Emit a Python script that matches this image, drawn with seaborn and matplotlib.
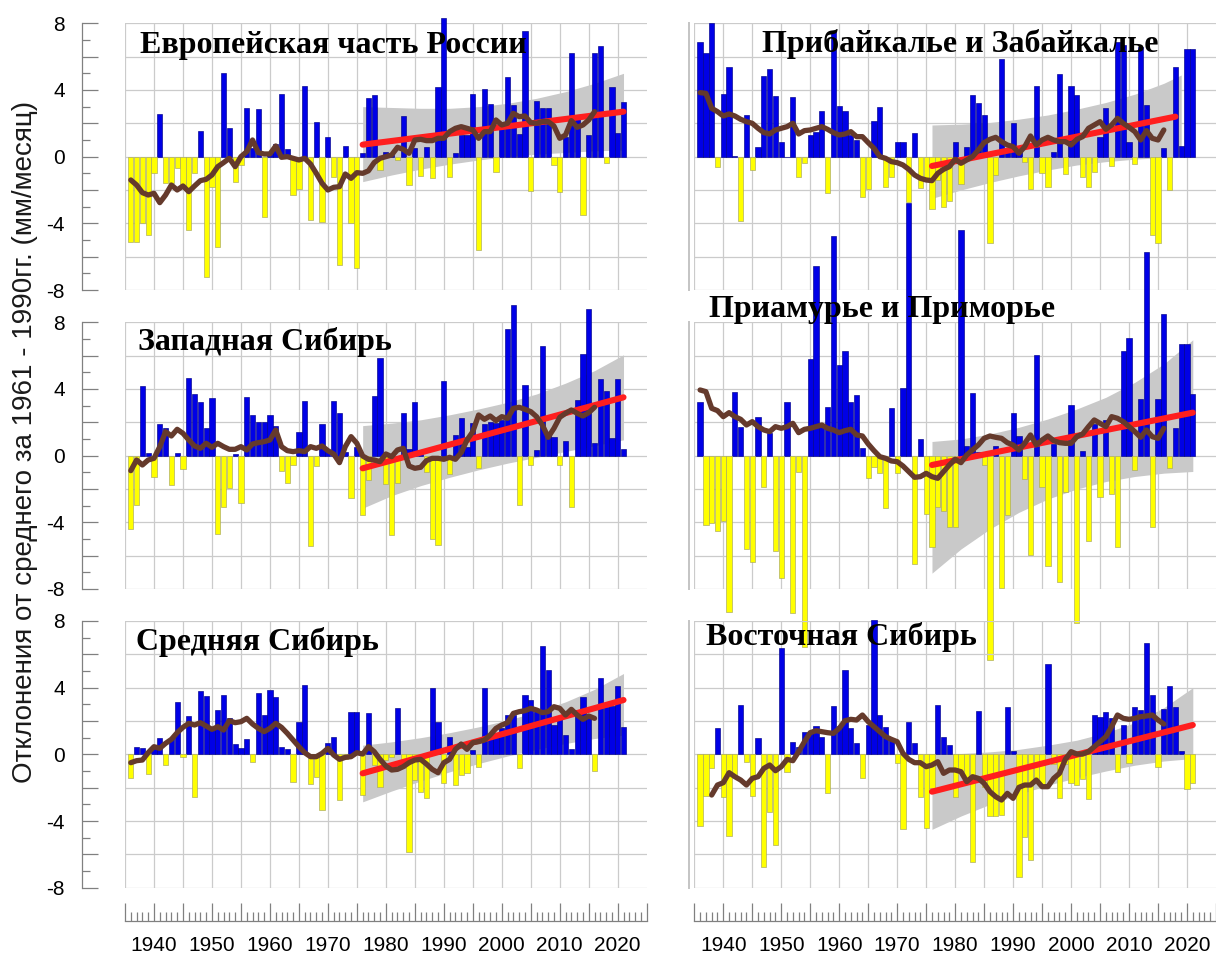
import numpy as np
import pandas as pd
import matplotlib
matplotlib.use("Agg")
import matplotlib.pyplot as plt
from matplotlib.ticker import MultipleLocator, FuncFormatter
import seaborn as sns

# ---------------- data ----------------
YEARS = list(range(1936, 2022))

TITLES = ["Европейская часть России", "Прибайкалье и Забайкалье",
          "Западная Сибирь", "Приамурье и Приморье",
          "Средняя Сибирь", "Восточная Сибирь"]

Y_LABEL = "Отклонения от среднего за 1961 - 1990гг. (мм/месяц)"
X_TICK_LABELS = ["1940", "1950", "1960", "1970", "1980", "1990", "2000", "2010", "2020"]
Y_TICK_LABELS = ["-8", "-4", "0", "4", "8"]

TL_VALS = [-5.1, -5.1, -4.0, -4.7, -1.0, 2.56, -1.6, -1.6, -0.7, -1.8,
           -4.4, -1.0, 1.56, -7.2, -1.8, -5.4, 5.0, 1.7, -1.5, -0.5,
           2.94, 0.5, 2.88, -3.6, 0.3, 0.76, 3.76, 0.44, -2.3, -1.96,
           4.24, -3.8, 2.1, -3.9, 1.2, -1.2, -6.5, 0.64, -4.0, -6.7,
           0.2, 3.54, 3.7, -0.8, 0.3, 0.1, -0.2, 2.44, -1.7, 0.5,
           -1.16, 0.6, -1.3, 4.16, 8.3, -1.24, 0.2, 1.3, 1.3, 3.76,
           -5.6, 4.04, 3.16, -0.9, 2.0, 4.8, 3.1, 1.36, 7.56, -2.04,
           3.36, 2.9, 2.9, -0.5, -2.1, 1.2, 6.2, 2.5, -3.5, 1.3,
           6.2, 6.64, -0.4, 4.16, 1.4, 3.3]

TR_VALS = [6.86, 6.2, 8.0, -0.64, 3.76, 5.36, 0.05, -3.84, 2.5, -0.8,
           0.56, 4.84, 5.26, 3.64, 0.9, 0.0, 3.6, -1.2, -0.4, 1.3,
           1.5, 2.76, -2.16, 7.56, 3.04, 2.74, 1.3, 1.0, -2.44, -1.96,
           2.14, 2.96, -1.8, -1.2, 0.9, 0.9, -2.7, 1.44, -1.9, -1.3,
           -3.16, -1.4, -3.0, -2.64, 0.9, -1.64, 0.6, 3.7, 3.2, 2.5,
           -5.16, -1.1, 5.84, 0.3, 2.04, 0.4, -0.3, -1.96, 4.24, -0.96,
           -1.84, 0.3, 4.96, -1.04, 4.24, 3.7, -1.2, -1.84, -0.94, 1.2,
           2.9, -0.56, 6.9, 6.7, 0.9, -0.44, 6.6, 3.1, -4.7, -5.16,
           0.5, -2.0, 5.36, 0.64, 6.44, 6.44]

ML_VALS = [-4.42, -2.96, 4.18, 0.14, -1.26, 1.88, 1.64, -1.76, 0.18, -0.82,
           4.64, 3.68, 3.24, 1.64, 3.44, -4.7, -3.06, -1.96, 0.1, -2.82,
           3.5, 2.44, 2.04, 2.04, 2.44, 1.78, -0.9, -1.62, -0.56, 1.44,
           3.3, -5.42, -0.6, 1.9, 0.3, 3.3, 2.54, 0.2, -2.56, 0.54,
           -3.56, -1.46, 3.58, 5.84, -1.7, -4.76, -1.66, 2.54, 0.4, 3.24,
           0.3, -1.0, -5.02, -5.36, 4.5, -1.1, 1.24, 2.24, 0.5, 1.94,
           -0.76, 1.9, 2.04, 1.94, 2.14, 7.58, 9.04, -2.96, 4.24, -0.56,
           0.34, 6.58, 1.44, 1.14, -0.56, 0.9, -3.1, 3.34, 6.1, 8.78,
           0.78, 4.58, 3.9, 1.04, 4.58, 0.38]

MR_VALS = [3.24, -4.16, -4.06, -4.5, -3.9, -9.36, 3.8, 1.74, -5.62, -6.36,
           2.34, -1.9, 1.34, -5.7, -7.36, 3.24, -9.46, -0.96, -11.46, 5.8,
           11.38, 1.7, 2.94, 13.18, 5.44, 6.3, 3.24, 3.64, 0.44, -1.36,
           -0.66, -1.02, -3.16, 2.84, -1.06, 4.08, 15.14, -6.5, 0.98, -3.5,
           -5.46, -3.06, -3.3, -4.26, -4.3, 13.54, 0.58, 3.78, 0.24, -0.56,
           -12.26, 0.58, -7.96, -3.56, 2.58, 1.18, -1.42, -5.96, 6.04, -1.86,
           -6.62, 0.7, -7.56, -2.16, 3.04, -10.06, 0.3, -5.1, 1.9, -2.5,
           2.14, -2.3, -5.5, 6.3, 7.04, -0.86, 3.38, 12.24, -4.26, 3.38,
           8.5, -0.76, 1.64, 6.7, 6.7, 3.7]

BL_VALS = [-1.44, 0.46, 0.36, -1.18, 0.5, 0.96, -0.64, 1.0, 3.16, -0.14,
           2.3, -2.58, 3.82, 3.5, 1.56, 2.66, 3.56, 2.16, 0.62, 0.36,
           0.9, -0.44, 3.66, 2.36, 3.86, 3.42, 0.46, 0.3, -1.64, 1.96,
           4.16, -1.78, -1.34, -3.34, 0.7, 1.06, -2.74, -0.3, 2.56, 2.56,
           -2.44, 2.46, -0.64, -1.94, -0.34, -0.18, 2.8, -0.84, -5.84, -1.54,
           -2.24, -2.64, 3.96, 1.96, -1.74, 1.02, -1.84, -1.24, -1.14, 0.26,
           -0.74, 3.96, 0.9, 1.26, 1.56, 2.36, 2.36, -0.84, 3.56, 3.26,
           2.66, 6.5, 5.06, 1.76, 2.16, 1.16, 0.3, 2.66, 3.42, 2.36,
           -0.98, 4.56, 2.82, 2.9, 4.1, 1.62]

BR_VALS = [-4.3, -2.5, -0.84, 1.56, -2.54, -4.9, -1.34, 2.96, -0.44, -2.5,
           0.96, -6.74, -3.44, -5.44, 6.36, -1.04, 0.76, 0.46, 1.36, 1.36,
           1.7, 1.06, -2.34, 2.9, 1.7, 5.06, 1.56, 0.66, -1.44, 1.76,
           8.06, 2.36, 1.66, 1.0, -0.5, -4.5, 1.96, 0.66, -2.54, -4.4,
           -2.0, 2.96, 1.02, 0.56, -2.54, -1.0, -1.5, -6.44, 2.6, -1.94,
           -3.7, -3.7, -3.64, 2.86, 0.22, -7.34, -4.94, -6.34, -1.5, -1.9,
           5.42, -0.6, -2.64, -0.6, -1.7, -1.84, -1.5, -2.7, 2.36, 2.26,
           2.56, 2.16, -1.04, 1.76, -0.54, 2.86, 2.66, 6.7, 3.56, -0.74,
           2.7, 4.1, 2.82, 0.22, -2.1, -1.7]

# smoothed curves (brown)
TL_MA = [-1.4, -1.7, -2.16, -2.3, -2.2, -2.76, -2.3, -1.7, -2.0, -1.76,
         -2.1, -1.76, -1.44, -1.36, -1.1, -0.6, -0.36, -0.1, -0.6, 0.0,
         0.3, 1.0, 0.24, 0.16, 0.16, 0.64, -0.04, 0.0, -0.1, -0.2,
         -0.1, -0.44, -1.0, -1.6, -2.0, -1.84, -1.8, -1.04, -1.3, -0.96,
         -1.0, -0.85, -0.35, -0.1, 0.0, 0.1, 0.56, 0.44, 0.2, 1.0,
         1.04, 0.96, 0.96, 1.1, 1.1, 1.5, 1.7, 1.8, 1.7, 1.6,
         1.1, 1.5, 1.5, 2.2, 1.9, 2.0, 2.6, 2.4, 2.44, 2.04,
         2.0, 2.1, 2.1, 1.84, 1.1, 1.3, 2.16, 1.76, 1.9, 2.2,
         2.7]
TR_MA = [3.84, 3.8, 2.9, 2.7, 2.44, 2.56, 2.44, 2.24, 2.1, 2.0,
         1.7, 1.44, 1.36, 1.6, 1.7, 1.8, 2.0, 1.36, 1.56, 1.6,
         1.7, 1.8, 1.64, 1.44, 1.3, 1.36, 1.5, 1.2, 1.2, 0.84,
         0.5, 0.0, -0.1, -0.3, -0.36, -0.5, -0.76, -1.1, -1.3, -1.4,
         -1.44, -1.0, -0.76, -0.6, -0.16, -0.4, -0.2, 0.0, 0.4, 0.84,
         1.04, 1.16, 0.9, 0.7, 0.6, 0.2, 0.6, 1.24, 0.7, 1.0,
         1.16, 1.0, 0.9, 0.9, 0.7, 1.04, 1.2, 1.7, 1.9, 2.1,
         1.64, 1.9, 2.3, 2.0, 1.76, 1.5, 1.0, 1.56, 1.1, 1.0,
         1.6]
ML_MA = [-0.9, -0.26, -0.56, -0.26, -0.16, 0.54, 1.44, 1.18, 1.58, 1.34,
         0.94, 0.58, 0.44, 0.74, 0.5, 0.74, 0.54, 0.38, 0.38, 0.54,
         0.34, 0.7, 0.78, 0.84, 0.94, 1.54, 0.54, 0.3, 0.24, 0.3,
         0.24, 0.54, 0.44, 0.58, 0.3, 0.1, -0.42, 0.54, 1.14, 0.74,
         -0.02, -0.22, -0.26, -0.36, 0.1, -0.06, 0.34, 0.44, -0.62, -0.76,
         -0.7, -0.3, -0.16, -0.16, -0.22, -0.1, -0.22, 0.18, 0.94, 1.44,
         2.44, 2.18, 2.38, 2.1, 2.34, 2.24, 2.84, 2.9, 2.78, 2.64,
         2.34, 1.84, 1.1, 1.64, 2.3, 2.54, 2.74, 2.54, 2.38, 2.58,
         2.9]
MR_MA = [3.94, 3.84, 2.84, 2.7, 2.34, 2.58, 2.34, 2.18, 1.84, 2.04,
         1.74, 1.54, 1.44, 1.74, 1.64, 1.74, 1.94, 1.38, 1.58, 1.64,
         1.74, 1.84, 1.64, 1.54, 1.38, 1.5, 1.58, 1.24, 1.18, 0.7,
         0.3, -0.06, -0.16, -0.32, -0.36, -0.62, -0.96, -1.3, -1.26, -1.06,
         -1.26, -1.36, -0.96, -0.56, -0.22, -0.42, 0.04, 0.34, 0.64, 1.04,
         1.18, 1.1, 1.04, 0.78, 0.64, 0.34, 0.74, 1.24, 0.64, 0.94,
         1.18, 0.9, 0.78, 0.74, 0.74, 1.14, 1.3, 1.74, 2.14, 1.94,
         1.74, 2.34, 2.24, 2.04, 1.74, 1.44, 1.1, 1.54, 1.14, 1.04,
         1.64]
BL_MA = [-0.5, -0.38, -0.34, 0.1, 0.46, 0.36, 0.66, 0.9, 1.3, 1.62,
         1.86, 1.76, 1.9, 1.7, 1.5, 1.66, 1.46, 2.02, 1.9, 1.96,
         2.16, 1.82, 1.56, 1.36, 1.56, 1.86, 1.62, 1.26, 0.86, 0.46,
         0.1, -0.14, -0.14, 0.06, 0.36, -0.04, -0.3, -0.18, -0.14, 0.1,
         0.02, 0.46, 0.16, -0.3, -0.7, -0.94, -0.9, -0.74, -0.5, -0.34,
         -0.3, -0.58, -0.9, -1.1, -0.5, -0.3, 0.3, 0.62, 0.3, 0.7,
         0.76, 0.86, 1.16, 1.56, 1.76, 1.9, 2.46, 2.56, 2.62, 2.76,
         2.66, 2.5, 2.56, 2.86, 2.76, 2.36, 2.7, 2.36, 2.1, 2.3,
         2.16]
BR_MA = [-2.44, -1.84, -1.7, -1.1, -1.34, -1.54, -1.84, -1.44, -1.34, -0.84,
         -0.64, -0.98, -0.74, -0.3, -0.38, 0.16, 0.76, 1.3, 1.42, 1.36,
         1.3, 1.26, 1.56, 2.02, 2.1, 2.06, 2.36, 1.96, 1.66, 1.36,
         1.06, 0.9, 0.76, 0.06, -0.3, -0.5, -0.5, -0.74, -0.64, -0.44,
         -1.14, -0.94, -0.94, -1.04, -1.64, -1.34, -1.44, -1.74, -2.24, -2.54,
         -2.74, -2.34, -2.64, -1.98, -1.84, -1.84, -1.54, -1.94, -1.94, -1.44,
         -1.14, -0.3, 0.16, 0.02, 0.02, 0.16, 0.46, 0.76, 1.06, 1.66,
         2.36, 2.16, 2.1, 2.16, 2.26, 2.3, 2.36, 2.06, 1.82]
MA_START = [1936, 1936, 1936, 1936, 1936, 1938]

# linear trends (red): start year, start value, end year, end value
TRENDS = [(1976, 0.72, 2021, 2.7), (1976, -0.56, 2018, 2.4),
          (1976, -0.76, 2021, 3.5), (1976, -0.56, 2021, 2.58),
          (1976, -1.14, 2021, 3.26), (1976, -2.24, 2021, 1.76)]

# grey confidence bands
BAND_YEARS = [1976, 1981, 1986, 1991, 1996, 2001, 2006, 2011, 2016, 2021]
BAND_YEARS_TR = [1976, 1981, 1986, 1991, 1996, 2001, 2006, 2011, 2016, 2019]
TL_BAND_HI = [3.0, 2.95, 2.9, 2.9, 3.0, 3.2, 3.5, 3.9, 4.4, 5.0]
TL_BAND_LO = [-1.5, -1.1, -0.75, -0.45, -0.2, 0.0, 0.15, 0.25, 0.35, 0.4]
TR_BAND_HI = [1.9, 1.95, 2.05, 2.25, 2.5, 2.85, 3.25, 3.75, 4.4, 4.9]
TR_BAND_LO = [-2.5, -2.0, -1.55, -1.15, -0.8, -0.5, -0.3, -0.15, -0.05, 0.0]
ML_BAND_HI = [1.8, 1.95, 2.15, 2.45, 2.8, 3.2, 3.7, 4.35, 5.1, 6.05]
ML_BAND_LO = [-3.15, -2.4, -1.8, -1.3, -0.85, -0.45, -0.1, 0.25, 0.6, 0.95]
MR_BAND_HI = [0.85, 1.0, 1.3, 1.7, 2.2, 2.8, 3.5, 4.4, 5.5, 6.95]
MR_BAND_LO = [-7.05, -5.6, -4.4, -3.4, -2.6, -2.0, -1.55, -1.25, -1.05, -0.95]
BL_BAND_HI = [0.55, 0.75, 1.0, 1.3, 1.65, 2.05, 2.55, 3.15, 3.9, 4.85]
BL_BAND_LO = [-2.85, -2.2, -1.6, -1.05, -0.55, -0.1, 0.3, 0.65, 0.95, 1.15]
BR_BAND_HI = [0.0, 0.05, 0.15, 0.3, 0.55, 0.85, 1.3, 1.9, 2.8, 4.0]
BR_BAND_LO = [-4.5, -3.7, -3.0, -2.4, -1.85, -1.4, -1.0, -0.65, -0.4, -0.25]

# ---------------- style ----------------
sns.set_style("white")
plt.rcParams['font.family'] = ['Liberation Sans', 'DejaVu Sans']
plt.rcParams['axes.unicode_minus'] = False
plt.rcParams['text.color'] = 'black'

BLUE, BLUE_EDGE = "#0000e6", "#00008a"
YELLOW, YELLOW_EDGE = "#ffff00", "#a6a660"
BROWN = "#653a2c"
RED = "#ff1e1e"
BAND = "#c9c9c9"
GRID = "#cbcbcb"
AXIS = "#808080"

W, H = 1216, 961
fig = plt.figure(figsize=(W / 100, H / 100), dpi=100)

COL_X = [125.0, 694.3]
PANEL_W = 521.7
ROW_Y = [23.3, 322.3, 621.0]
PANEL_H = 266.7


def rect(x, y, w, h):
    return [x / W, 1 - (y + h) / H, w / W, h / H]


panels = [
    (0, 0, TL_VALS, TL_MA, BAND_YEARS, TL_BAND_LO, TL_BAND_HI),
    (0, 1, TR_VALS, TR_MA, BAND_YEARS_TR, TR_BAND_LO, TR_BAND_HI),
    (1, 0, ML_VALS, ML_MA, BAND_YEARS, ML_BAND_LO, ML_BAND_HI),
    (1, 1, MR_VALS, MR_MA, BAND_YEARS, MR_BAND_LO, MR_BAND_HI),
    (2, 0, BL_VALS, BL_MA, BAND_YEARS, BL_BAND_LO, BL_BAND_HI),
    (2, 1, BR_VALS, BR_MA, BAND_YEARS, BR_BAND_LO, BR_BAND_HI),
]
TITLE_POS = [(140.5, 53.3), (762.5, 51.7), (138.0, 350.0),
             (709.0, 316.7), (136.0, 650.0), (706.0, 645.0)]


def ylab(v, pos):
    iv = int(round(v))
    return str(iv) if str(iv) in Y_TICK_LABELS else ""


for i, (r, c, vals, ma, byears, blo, bhi) in enumerate(panels):
    ax = fig.add_axes(rect(COL_X[c], ROW_Y[r], PANEL_W, PANEL_H))
    ax.patch.set_alpha(0)

    df = pd.DataFrame({"year": YEARS, "value": vals})
    df["sign"] = np.where(df["value"] >= 0, "pos", "neg")
    sns.barplot(data=df, x="year", y="value", hue="sign", hue_order=["pos", "neg"],
                palette={"pos": BLUE, "neg": YELLOW}, native_scale=True, dodge=False,
                width=0.9, errorbar=None, legend=False, ax=ax, linewidth=0.45,
                saturation=1)
    for p in ax.patches:
        fc = p.get_facecolor()
        p.set_edgecolor(BLUE_EDGE if fc[2] > 0.5 else YELLOW_EDGE)
        p.set_clip_on(False)
        p.set_zorder(2)

    ax.fill_between(byears, blo, bhi, color=BAND, linewidth=0, zorder=1.5)

    t0, v0, t1, v1 = TRENDS[i]
    sns.lineplot(x=[t0, t1], y=[v0, v1], ax=ax, color=RED, linewidth=4.4,
                 solid_capstyle="round", zorder=3)
    ma_years = list(range(MA_START[i], MA_START[i] + len(ma)))
    sns.lineplot(x=ma_years, y=ma, ax=ax, color=BROWN, linewidth=3.8,
                 solid_capstyle="round", solid_joinstyle="round", zorder=4)

    ax.set_xlim(1935, 2025)
    ax.set_ylim(-8, 8)
    ax.set_xticks(np.arange(1935, 2021, 5))
    ax.set_yticks(np.arange(-8, 9, 2))
    ax.grid(True, color=GRID, linewidth=0.9)
    ax.set_axisbelow(True)
    ax.set_xlabel("")
    ax.set_ylabel("")
    ax.tick_params(axis="x", which="both", length=0, labelbottom=False)
    for s in ["top", "right", "bottom"]:
        ax.spines[s].set_visible(False)

    if c == 0:
        ax.spines["left"].set_position(("outward", 43.3 * 0.72))
        ax.spines["left"].set_color(AXIS)
        ax.spines["left"].set_linewidth(0.9)
        ax.yaxis.set_minor_locator(MultipleLocator(1))
        ax.yaxis.set_major_formatter(FuncFormatter(ylab))
        ax.tick_params(axis="y", which="major", direction="in", length=11.5, width=0.9,
                       color=AXIS, labelsize=15, pad=12, labelcolor="black", left=True)
        ax.tick_params(axis="y", which="minor", direction="in", length=5.8, width=0.9,
                       color=AXIS, left=True)
    else:
        ax.spines["left"].set_position(("outward", 3.6))
        ax.spines["left"].set_color("#c4c4c4")
        ax.spines["left"].set_linewidth(1.4)
        ax.tick_params(axis="y", which="both", length=0, labelleft=False)

    tx, ty = TITLE_POS[i]
    fig.text(tx / W, 1 - ty / H, TITLES[i], ha="left", va="baseline",
             fontsize=23, fontweight="bold", color="black",
             family=["Liberation Serif", "DejaVu Serif"], zorder=10)

# bottom year axes
for cx in COL_X:
    bx = fig.add_axes(rect(cx, 920.0, PANEL_W, 1.0))
    bx.patch.set_alpha(0)
    for s in ["top", "right", "left"]:
        bx.spines[s].set_visible(False)
    bx.spines["bottom"].set_color(AXIS)
    bx.spines["bottom"].set_linewidth(0.9)
    bx.set_xlim(1935, 2025)
    bx.set_ylim(0, 1)
    bx.set_yticks([])
    bx.set_xticks(np.arange(1935, 2026, 5))
    bx.xaxis.set_minor_locator(MultipleLocator(1))
    bx.set_xticklabels([str(y) if str(y) in X_TICK_LABELS else ""
                        for y in range(1935, 2026, 5)])
    bx.tick_params(axis="x", which="major", direction="in", length=12.7, width=0.9,
                   color=AXIS, labelsize=15, pad=11, labelcolor="black", bottom=True)
    bx.tick_params(axis="x", which="minor", direction="in", length=6.7, width=0.9,
                   color=AXIS, bottom=True)

fig.text(25 / W, 1 - 442 / H, Y_LABEL, rotation=90, ha="center", va="center",
         fontsize=20, color="#1a1a1a")

fig.savefig("out.png", dpi=100)
